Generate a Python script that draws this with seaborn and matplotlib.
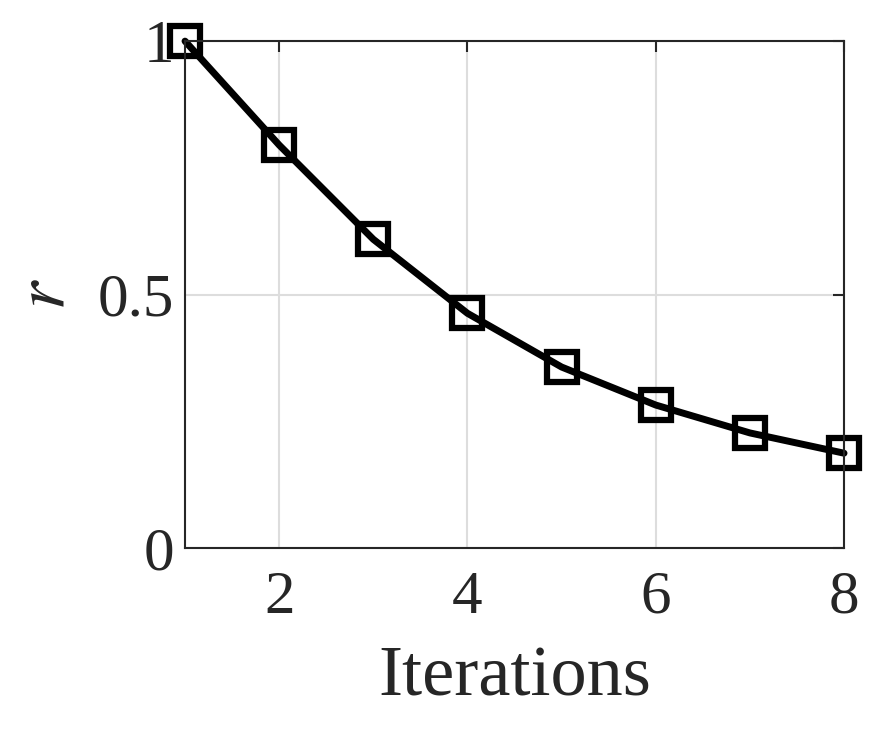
import matplotlib
matplotlib.use("Agg")
import matplotlib.pyplot as plt
import seaborn as sns
import pandas as pd

iterations = [1, 2, 3, 4, 5, 6, 7, 8]
r_values = [1.0, 0.795, 0.609, 0.463, 0.357, 0.282, 0.227, 0.187]
xticks = [2, 4, 6, 8]
yticks = [0, 0.5, 1]
ytick_labels = ["0", "0.5", "1"]

sns.set_theme(style="white")
plt.rcParams['font.family'] = ['Liberation Serif', 'DejaVu Serif']
plt.rcParams['mathtext.fontset'] = 'stix'

df = pd.DataFrame({"Iterations": iterations, "r": r_values})
fig = plt.figure(figsize=(8.74, 7.41), dpi=100)
ax = fig.add_axes([0.2117, 0.2605, 0.754, 0.684])
sns.lineplot(data=df, x="Iterations", y="r", ax=ax, color="black", linewidth=5,
             marker="s", markersize=22, markerfacecolor="none",
             markeredgecolor="black", markeredgewidth=4.5, clip_on=False)
ax.set_xlim(1, 8)
ax.set_ylim(0, 1)
ax.set_xticks(xticks)
ax.set_yticks(yticks)
ax.set_yticklabels(ytick_labels)
ax.grid(True, color="#dddddd", linewidth=1.5)
for s in ax.spines.values():
    s.set_visible(True)
    s.set_color("#262626")
    s.set_linewidth(1.5)
ax.tick_params(direction="in", length=8, width=1.5, labelsize=44, colors="#262626",
               top=True, right=True)
ax.tick_params(axis="x", pad=16)
ax.tick_params(axis="y", pad=8)
ax.set_xlabel("Iterations", fontsize=52, color="#262626", labelpad=14)
ax.set_ylabel("$r$", fontsize=52, color="#262626", labelpad=14)
fig.savefig("out.png", dpi=100)
